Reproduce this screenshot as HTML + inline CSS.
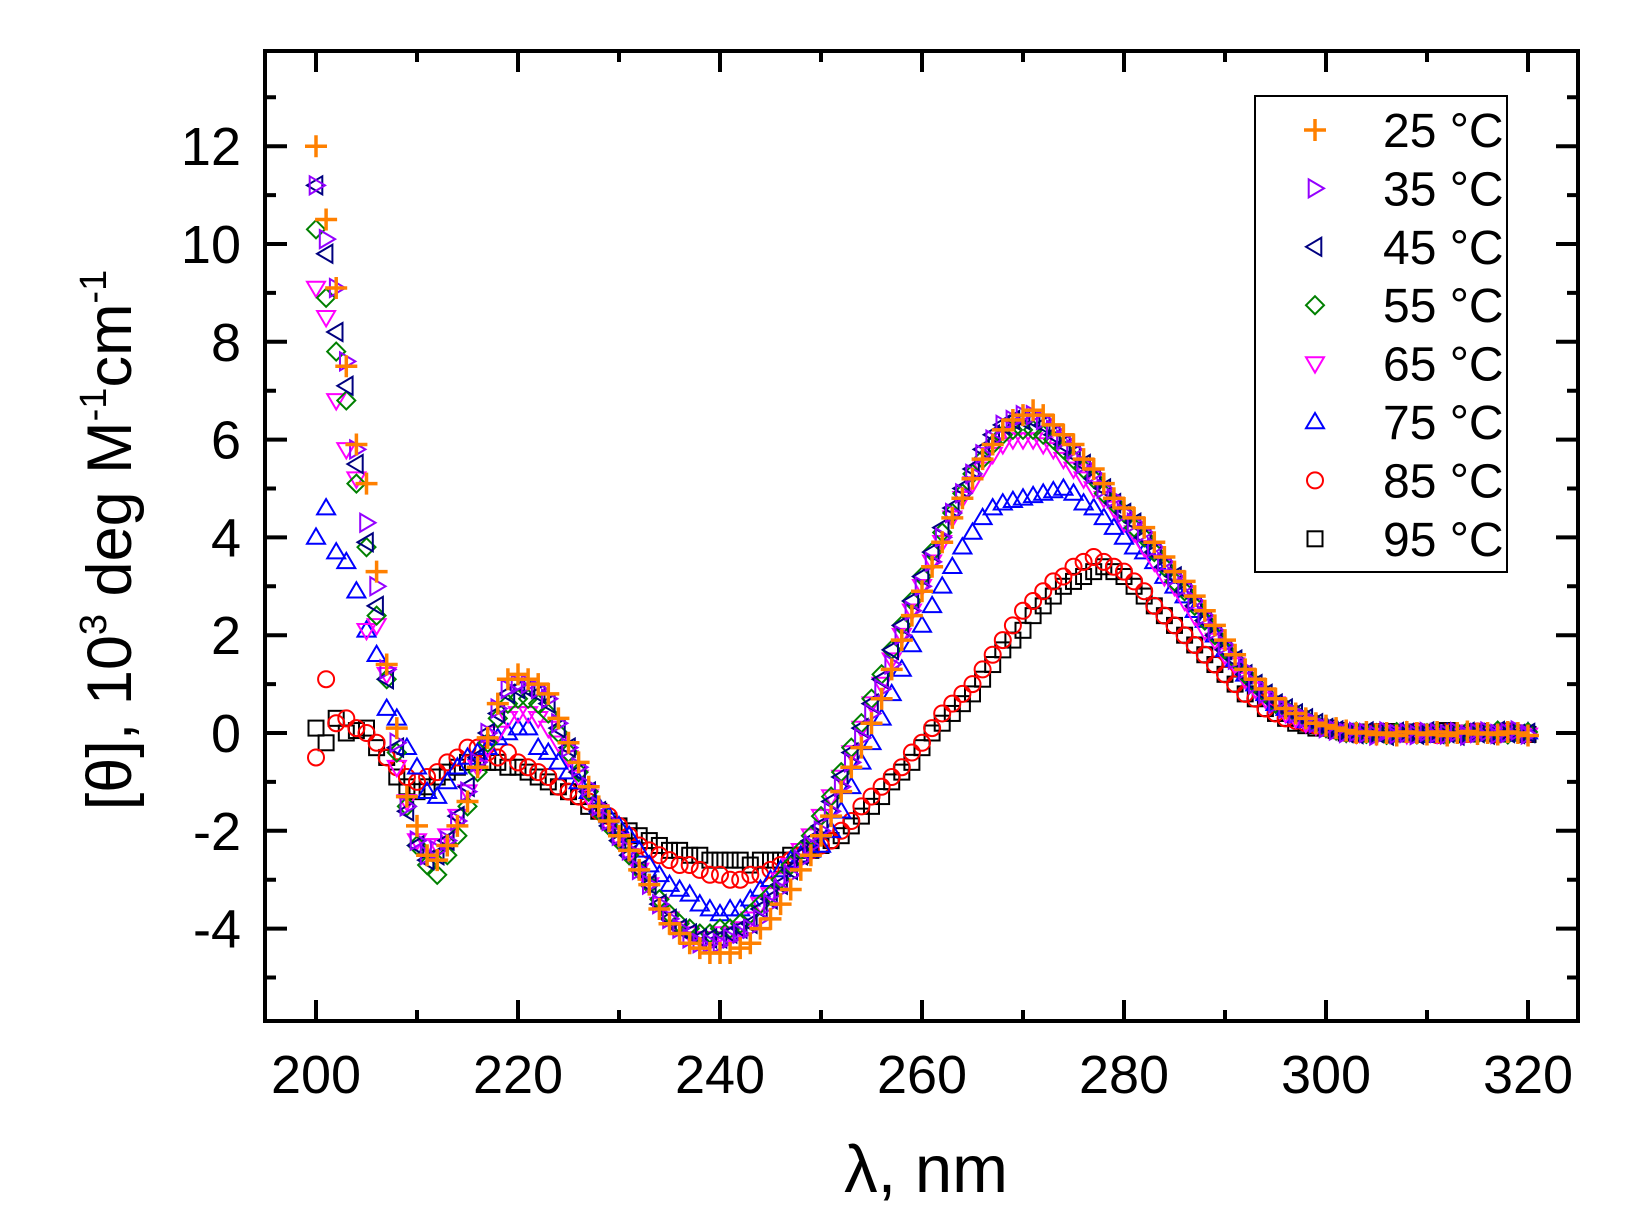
<!DOCTYPE html>
<html><head><meta charset="utf-8"><style>
html,body{margin:0;padding:0;background:#fff;width:1642px;height:1214px;overflow:hidden}
svg text{font-family:"Liberation Sans",sans-serif;fill:#000}
</style></head><body>
<svg id="chart" width="1642" height="1214" viewBox="0 0 1642 1214" xmlns="http://www.w3.org/2000/svg">
<g id="marks"></g>
<g id="axes"></g>
<text transform="translate(131,540) rotate(-90)" text-anchor="middle" font-size="63">[θ],  10<tspan font-size="38" dy="-25">3</tspan><tspan dy="25"> deg M</tspan><tspan font-size="38" dy="-25">-1</tspan><tspan dy="25">cm</tspan><tspan font-size="38" dy="-25">-1</tspan></text>
<text x="926" y="1192" text-anchor="middle" font-size="67">λ, nm</text>
<g id="legend"></g>
</svg>
<script>
const wavelengths=[];for(let w=200;w<=320;w++)wavelengths.push(w);
const s25=[12.0,10.5,9.1,7.5,5.9,5.1,3.3,1.4,0.1,-1.3,-1.9,-2.5,-2.6,-2.3,-1.9,-1.4,-0.7,-0.1,0.6,1.1,1.2,1.1,1.0,0.8,0.3,-0.2,-0.6,-1.1,-1.5,-1.8,-2.1,-2.4,-2.8,-3.1,-3.6,-3.9,-4.1,-4.3,-4.4,-4.5,-4.5,-4.5,-4.4,-4.3,-4.0,-3.8,-3.5,-3.2,-2.8,-2.5,-2.1,-1.7,-1.2,-0.7,-0.3,0.2,0.7,1.3,1.9,2.4,2.9,3.4,3.9,4.4,4.8,5.2,5.6,5.9,6.2,6.4,6.5,6.6,6.5,6.3,6.1,5.9,5.6,5.4,5.1,4.8,4.6,4.4,4.2,3.9,3.6,3.3,3.1,2.8,2.5,2.2,1.9,1.6,1.3,1.1,0.9,0.7,0.5,0.4,0.3,0.2,0.15,0.1,0.05,0,0.02,-0.03,0,-0.05,0.02,0,-0.03,0.02,-0.05,0,0.03,-0.02,0,-0.03,0.02,0,-0.05];
const s35=[11.2,10.1,9.1,7.6,5.8,4.3,3.0,1.3,-0.2,-1.5,-2.2,-2.5,-2.4,-2.2,-1.8,-1.2,-0.6,0,0.5,0.9,1.0,1.0,0.9,0.7,0.2,-0.3,-0.7,-1.1,-1.5,-1.8,-2.1,-2.4,-2.8,-3.1,-3.5,-3.8,-4.0,-4.2,-4.3,-4.3,-4.3,-4.2,-4.1,-4.0,-3.8,-3.5,-3.2,-2.9,-2.6,-2.3,-2.0,-1.6,-1.1,-0.6,-0.1,0.4,0.9,1.4,2.0,2.5,3.0,3.5,4.0,4.5,4.9,5.3,5.7,6.0,6.3,6.4,6.5,6.5,6.4,6.2,6.0,5.8,5.5,5.3,5.0,4.8,4.5,4.3,4.1,3.8,3.5,3.2,3.0,2.7,2.4,2.1,1.8,1.5,1.3,1.0,0.8,0.6,0.5,0.4,0.3,0.2,0.1,0.05,0,0.02,0,-0.05,0.03,-0.02,0,-0.04,0.02,0,-0.03,0.02,-0.05,0,0.03,-0.02,0,0.05,-0.03];
const s45=[11.2,9.8,8.2,7.1,5.5,3.9,2.6,1.1,-0.3,-1.6,-2.3,-2.6,-2.5,-2.2,-1.7,-1.1,-0.5,0,0.4,0.8,0.9,0.9,0.8,0.6,0.1,-0.3,-0.8,-1.2,-1.6,-1.9,-2.2,-2.5,-2.8,-3.1,-3.5,-3.8,-4.0,-4.1,-4.2,-4.2,-4.2,-4.1,-4.0,-3.9,-3.6,-3.4,-3.1,-2.8,-2.5,-2.2,-1.9,-1.4,-0.9,-0.4,0.1,0.6,1.1,1.7,2.2,2.7,3.2,3.7,4.2,4.6,5.0,5.4,5.8,6.1,6.3,6.4,6.4,6.4,6.3,6.1,5.9,5.7,5.5,5.2,5.0,4.7,4.5,4.3,4.0,3.7,3.4,3.2,2.9,2.6,2.3,2.0,1.7,1.5,1.2,1.0,0.8,0.6,0.5,0.4,0.3,0.2,0.1,0.05,0,-0.02,0.03,0,-0.05,0.02,0,-0.03,0.03,-0.02,0,-0.05,0.02,0,-0.03,0.04,0,-0.02,0];
const s55=[10.3,8.9,7.8,6.8,5.1,3.8,2.4,1.1,-0.4,-1.5,-2.3,-2.7,-2.9,-2.5,-2.1,-1.5,-0.8,-0.2,0.3,0.6,0.7,0.7,0.6,0.4,0,-0.4,-0.8,-1.2,-1.6,-1.9,-2.2,-2.5,-2.8,-3.1,-3.4,-3.7,-3.9,-4.0,-4.1,-4.1,-4.0,-4.0,-3.9,-3.7,-3.5,-3.3,-3.0,-2.7,-2.4,-2.1,-1.7,-1.3,-0.8,-0.3,0.2,0.7,1.2,1.7,2.2,2.7,3.2,3.7,4.1,4.5,4.9,5.3,5.6,5.9,6.1,6.2,6.2,6.2,6.1,6.0,5.8,5.6,5.4,5.2,4.9,4.7,4.5,4.2,4.0,3.7,3.4,3.1,2.9,2.6,2.3,2.0,1.7,1.5,1.2,1.0,0.8,0.6,0.5,0.4,0.3,0.2,0.1,0.05,0,0.03,-0.02,0,-0.04,0.02,0,-0.03,0,0.02,-0.05,0,0.03,-0.02,0,0.05,-0.03,0,0.02];
const s65=[9.1,8.5,6.8,5.8,5.2,2.1,2.2,1.2,-0.7,-1.4,-2.2,-2.3,-2.3,-2.1,-1.7,-1.2,-0.7,-0.3,0,0.3,0.4,0.4,0.3,0.1,-0.2,-0.5,-0.9,-1.3,-1.6,-1.9,-2.2,-2.5,-2.8,-3.1,-3.5,-3.8,-4.0,-4.1,-4.2,-4.2,-4.1,-4.1,-4.0,-3.8,-3.5,-3.3,-3.0,-2.7,-2.4,-2.1,-1.7,-1.3,-0.9,-0.4,0.1,0.6,1.0,1.5,2.0,2.5,3.0,3.5,3.9,4.4,4.8,5.1,5.4,5.7,5.9,6.0,6.0,6.0,5.9,5.8,5.6,5.4,5.2,5.0,4.8,4.6,4.3,4.1,3.8,3.5,3.2,3.0,2.7,2.4,2.1,1.9,1.6,1.4,1.1,0.9,0.7,0.6,0.4,0.3,0.2,0.15,0.1,0.05,0,-0.02,0,-0.05,0.02,0,-0.03,0.03,0,-0.02,-0.05,0,0.02,-0.03,0,0.03,-0.02,0,-0.04];
const s75=[4.0,4.6,3.7,3.5,2.9,2.1,1.6,0.5,0.3,-0.3,-0.7,-1.2,-1.3,-1.0,-0.7,-0.5,-0.4,-0.3,-0.1,0,0.1,0.1,-0.3,-0.4,-0.6,-0.8,-1.0,-1.2,-1.5,-1.7,-1.9,-2.1,-2.4,-2.7,-2.9,-3.1,-3.2,-3.3,-3.5,-3.6,-3.7,-3.6,-3.6,-3.4,-3.2,-3.0,-2.8,-2.6,-2.5,-2.4,-2.3,-2.0,-1.6,-1.1,-0.6,-0.2,0.3,0.8,1.3,1.8,2.2,2.6,3.0,3.4,3.8,4.1,4.4,4.6,4.7,4.75,4.8,4.85,4.9,4.95,5.0,4.9,4.7,4.6,4.4,4.2,4.0,3.8,3.7,3.5,3.2,3.0,2.8,2.5,2.3,2.0,1.7,1.5,1.2,1.0,0.8,0.6,0.5,0.35,0.25,0.2,0.15,0.1,0.05,0,0.02,-0.03,0,-0.02,0.03,0,-0.05,0.02,0,-0.03,0.02,-0.02,0,0.04,-0.03,0,0.02];
const s85=[-0.5,1.1,0.2,0.3,0.1,0,-0.2,-0.5,-0.7,-0.9,-1.0,-0.9,-0.8,-0.6,-0.5,-0.3,-0.3,-0.4,-0.5,-0.4,-0.6,-0.7,-0.8,-0.9,-1.1,-1.2,-1.3,-1.4,-1.6,-1.7,-1.9,-2.1,-2.3,-2.4,-2.5,-2.6,-2.7,-2.7,-2.8,-2.9,-2.9,-3.0,-3.0,-2.9,-2.9,-2.8,-2.7,-2.6,-2.5,-2.4,-2.3,-2.2,-2.0,-1.8,-1.5,-1.3,-1.1,-0.9,-0.7,-0.4,-0.2,0.1,0.4,0.6,0.8,1.0,1.3,1.6,1.9,2.2,2.5,2.7,2.9,3.1,3.2,3.4,3.5,3.6,3.5,3.4,3.3,3.1,2.9,2.6,2.4,2.2,2.0,1.8,1.6,1.4,1.2,1.0,0.8,0.7,0.5,0.4,0.3,0.25,0.2,0.15,0.1,0.05,0,-0.02,0,0.02,-0.03,0,-0.02,0.03,0,-0.04,0.02,0,-0.02,0.03,0,-0.03,0.02,0,-0.02];
const s95=[0.1,-0.2,0.3,0,0.05,0.1,-0.3,-0.5,-0.9,-1.1,-1.2,-1.1,-0.9,-0.8,-0.7,-0.6,-0.6,-0.6,-0.6,-0.7,-0.7,-0.8,-0.9,-1.0,-1.1,-1.2,-1.3,-1.5,-1.6,-1.8,-1.9,-2.0,-2.1,-2.2,-2.3,-2.4,-2.4,-2.5,-2.5,-2.6,-2.6,-2.6,-2.6,-2.7,-2.6,-2.6,-2.6,-2.5,-2.5,-2.4,-2.3,-2.2,-2.1,-1.9,-1.7,-1.5,-1.3,-1.0,-0.8,-0.6,-0.3,0,0.2,0.4,0.6,0.8,1.1,1.4,1.7,1.9,2.1,2.4,2.6,2.8,3.0,3.1,3.2,3.3,3.4,3.3,3.2,3.0,2.8,2.6,2.4,2.2,2.0,1.8,1.6,1.4,1.2,1.0,0.8,0.7,0.5,0.4,0.3,0.2,0.15,0.1,0.1,0.05,0,0.02,-0.02,0,0.03,-0.02,0,0.02,-0.03,0,0.05,0,-0.02,0.03,0,-0.02,0.04,0,-0.03];
const seriesLabels=["25 °C","35 °C","45 °C","55 °C","65 °C","75 °C","85 °C","95 °C"];
const xTicks=[200,220,240,260,280,300,320];
const yTicks=[12,10,8,6,4,2,0,-2,-4];

const NS="http://www.w3.org/2000/svg";
const X0=316,XS=10.1,Y0=733,YS=48.9;
const xs=v=>X0+(v-200)*XS, ys=v=>Y0-v*YS;
const L=265,R=1578,T=51,B=1021;
function mk(tag,attrs,parent){const e=document.createElementNS(NS,tag);for(const k in attrs)e.setAttribute(k,attrs[k]);parent.appendChild(e);return e;}
const styles=[
 {c:"#ff8000",t:"plus"},{c:"#9400ff",t:"right"},{c:"#000080",t:"left"},{c:"#008000",t:"diamond"},
 {c:"#ff00ff",t:"down"},{c:"#0000ff",t:"up"},{c:"#ff0000",t:"circle"},{c:"#000000",t:"square"}];
function marker(p,t,x,y,c){
 const s=9;let e;
 if(t==="plus"){e=mk("path",{d:`M${x-11} ${y}H${x+11}M${x} ${y-11}V${y+11}`,stroke:c,"stroke-width":3.5,fill:"none"},p);}
 else if(t==="circle"){e=mk("circle",{cx:x,cy:y,r:8,stroke:c,"stroke-width":2,fill:"none"},p);}
 else if(t==="square"){e=mk("rect",{x:x-7.5,y:y-7.5,width:15,height:15,stroke:c,"stroke-width":2,fill:"none"},p);}
 else{let pts;
  if(t==="up")pts=[[x,y-s],[x-s,y+s*0.7],[x+s,y+s*0.7]];
  if(t==="down")pts=[[x,y+s],[x-s,y-s*0.7],[x+s,y-s*0.7]];
  if(t==="right")pts=[[x+s,y],[x-s*0.7,y-s],[x-s*0.7,y+s]];
  if(t==="left")pts=[[x-s,y],[x+s*0.7,y-s],[x+s*0.7,y+s]];
  if(t==="diamond")pts=[[x,y-s],[x+s,y],[x,y+s],[x-s,y]];
  e=mk("polygon",{points:pts.map(q=>q.join(",")).join(" "),stroke:c,"stroke-width":2,fill:"none"},p);}
 return e;}
const allSeries=[s25,s35,s45,s55,s65,s75,s85,s95];
const marks=document.getElementById("marks");
for(let i=allSeries.length-1;i>=0;i--){
 const g=mk("g",{},marks);
 
 
 allSeries[i].forEach((v,j)=>{
  const m=marker(g,styles[i].t,xs(wavelengths[j]),ys(v),styles[i].c);
  
  
 });
}
const ax=document.getElementById("axes");
const frame=mk("rect",{x:L,y:T,width:R-L,height:B-T,fill:"none",stroke:"#000","stroke-width":4},ax);


let d="";
for(let v=200;v<=320;v+=10){const x=xs(v),len=(v%20===0)?21:11;d+=`M${x} ${B}V${B-len}M${x} ${T}V${T+len}`;}
for(let v=-5;v<=13;v++){const y=ys(v),len=(v%2===0)?22:11;d+=`M${L} ${y}H${L+len}M${R} ${y}H${R-len}`;}
const tk=mk("path",{d:d,stroke:"#000","stroke-width":4,fill:"none"},ax);


xTicks.forEach(v=>{const t=mk("text",{x:xs(v),y:1093,"text-anchor":"middle","font-size":54},ax);t.textContent=v;
 
 });
yTicks.forEach(v=>{const t=mk("text",{x:241,y:ys(v)+19,"text-anchor":"end","font-size":54},ax);t.textContent=v;
 
 });
const lg=document.getElementById("legend");
const box=mk("rect",{x:1255,y:96,width:252,height:476,fill:"#fff",stroke:"#000","stroke-width":2},lg);


seriesLabels.forEach((lab,i)=>{
 const y=130+i*58.4;
 const g=mk("g",{},lg);
 
 
 marker(g,styles[i].t,1315,y,styles[i].c);
 const t=mk("text",{x:1383,y:y+17,"font-size":48},g);t.textContent=lab;
});
</script>
</body></html>
